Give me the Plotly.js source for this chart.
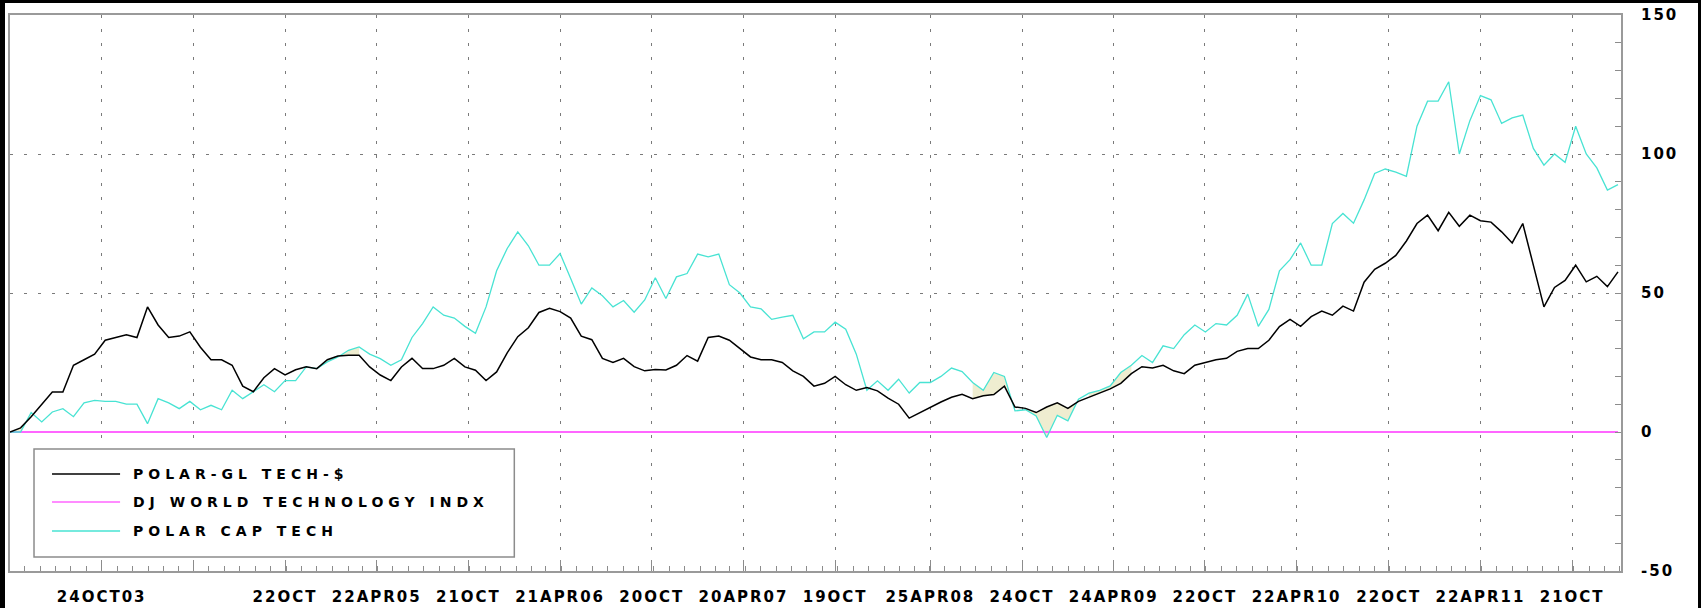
<!DOCTYPE html>
<html>
<head>
<meta charset="utf-8">
<script src="https://cdn.plot.ly/plotly-3.0.1.min.js"></script>
<style>
  html, body { margin: 0; padding: 0; background: #000; overflow: hidden; width: 1701px; height: 608px; }
  #chart { position: absolute; left: 5px; top: 3px; width: 1693px; height: 605px; }
  .xtick text, .ytick text { letter-spacing: 2px; }
  .annotation-text { letter-spacing: 5px; }
</style>
</head>
<body>
<div id="chart"></div>
<script>
// Weekly-sampled (every 3 weeks) dates
const dates = [
'2003-04-25','2003-05-16','2003-06-06','2003-06-27','2003-07-18','2003-08-08','2003-08-29','2003-09-19','2003-10-10','2003-10-31',
'2003-11-21','2003-12-12','2004-01-02','2004-01-23','2004-02-13','2004-03-05','2004-03-26','2004-04-16','2004-05-07','2004-05-28',
'2004-06-18','2004-07-09','2004-07-30','2004-08-20','2004-09-10','2004-10-01','2004-10-22','2004-11-12','2004-12-03','2004-12-24',
'2005-01-14','2005-02-04','2005-02-25','2005-03-18','2005-04-08','2005-04-29','2005-05-20','2005-06-10','2005-07-01','2005-07-22',
'2005-08-12','2005-09-02','2005-09-23','2005-10-14','2005-11-04','2005-11-25','2005-12-16','2006-01-06','2006-01-27','2006-02-17',
'2006-03-10','2006-03-31','2006-04-21','2006-05-12','2006-06-02','2006-06-23','2006-07-14','2006-08-04','2006-08-25','2006-09-15',
'2006-10-06','2006-10-27','2006-11-17','2006-12-08','2006-12-29','2007-01-19','2007-02-09','2007-03-02','2007-03-23','2007-04-13',
'2007-05-04','2007-05-25','2007-06-15','2007-07-06','2007-07-27','2007-08-17','2007-09-07','2007-09-28','2007-10-19','2007-11-09',
'2007-11-30','2007-12-21','2008-01-11','2008-02-01','2008-02-22','2008-03-14','2008-04-04','2008-04-25','2008-05-16','2008-06-06',
'2008-06-27','2008-07-18','2008-08-08','2008-08-29','2008-09-19','2008-10-10','2008-10-31','2008-11-21','2008-12-12','2009-01-02',
'2009-01-23','2009-02-13','2009-03-06','2009-03-27','2009-04-17','2009-05-08','2009-05-29','2009-06-19','2009-07-10','2009-07-31',
'2009-08-21','2009-09-11','2009-10-02','2009-10-23','2009-11-13','2009-12-04','2009-12-25','2010-01-15','2010-02-05','2010-02-26',
'2010-03-19','2010-04-09','2010-04-30','2010-05-21','2010-06-11','2010-07-02','2010-07-23','2010-08-13','2010-09-03','2010-09-24',
'2010-10-15','2010-11-05','2010-11-26','2010-12-17','2011-01-07','2011-01-28','2011-02-18','2011-03-11','2011-04-01','2011-04-22',
'2011-05-13','2011-06-03','2011-06-24','2011-07-15','2011-08-05','2011-08-26','2011-09-16','2011-10-07','2011-10-28','2011-11-18',
'2011-12-09','2011-12-30','2012-01-20'
];

const polarGlTech = [
0,1.5,5.5,9.8,14.4,14.4,24,26,28,33,
34,35,34,45,38.5,34,34.5,36,30.5,26,
26,24,16.5,14.5,19.5,22.8,20.5,22.4,23.5,22.8,
26,27.3,27.6,27.6,23.4,20.5,18.5,23.4,26.5,22.8,
22.8,24,26.5,23.4,22.2,18.5,21.6,28.5,34.3,37.5,
43,44.5,43.3,41,34.5,33.2,26.5,25,26.5,23.5,
22,22.5,22.3,24,27.5,25.5,34,34.5,33,30,
27,26,26,25,22,20,16.5,17.5,20,17,
15,16,14.8,12.2,10,5,7,9,10.8,12.5,
13.6,12,13,13.5,16.5,9,8.5,7,9,10.5,
8.5,11,12.5,14,15.5,17.5,21,23.5,23,24,
22,21,24,25,26,26.5,29,30,30,33,
37.9,40.5,38,41.5,43.5,42,45.3,43.5,53.9,58.5,
60.7,63.5,68.7,75,78,72.4,79,74,78,76,
75.5,72,68,75,60,45,52,54.5,60,54,
56,52.3,57.6
];

const polarCapTech = [
0,0,7,3.6,7.2,8.4,5.5,10.5,11.4,11,
11,10,10,3,12,10.5,8.4,11,8,9.6,
8,15,12,14.5,17,14.5,18.5,18.5,23.4,22.8,
25.2,27,29.4,30.6,28,26.4,24,26,34,39,
45,42,41,38,35.5,45,58,66,72,67,
60,60,64.2,55.2,46,51.8,49,45,47.3,43.1,
47.5,55.5,48,55.8,57,64,63,64,53,50,
45,44.3,40.5,41.3,42,33.5,36,36,39.5,37,
28,15,18.4,15,19,14,17.8,17.8,20,23,
21.7,17.8,15,21.4,20,7.6,8,5.8,-2,6,
4,11.8,14,15,16.6,21.4,24,27.5,25,31,
30,35,38.5,36,39,38.5,42,49.6,38,44.1,
58,62,68,60,60,75,78.6,75.1,83.5,93,
94.6,93.5,92,110,119,119,126,100,112,121,
119.5,111,113,114,102,96,100,97,110,100,
95,87,89
];

const djWorldTech = [0, 0];
const djDates = [dates[0], dates[dates.length - 1]];

const seriesNames = ['POLAR-GL TECH-$', 'DJ WORLD TECHNOLOGY INDX', 'POLAR CAP TECH'];
const seriesColors = ['#000000', '#ff66ff', '#48e3d3'];

const tickDates = ['2003-10-24','2004-04-23','2004-10-22','2005-04-22','2005-10-21','2006-04-21','2006-10-20','2007-04-20','2007-10-19','2008-04-25','2008-10-24','2009-04-24','2009-10-22','2010-04-22','2010-10-22','2011-04-22','2011-10-21'];
const tickLabels = ['24OCT03','','22OCT','22APR05','21OCT','21APR06','20OCT','20APR07','19OCT','25APR08','24OCT','24APR09','22OCT','22APR10','22OCT','22APR11','21OCT'];
const yTicks = [-50, 0, 50, 100, 150];

// index ranges where the band between the two fund lines is shaded
const shadeRanges = [[0, 2], [29, 33], [91, 95], [96, 101], [102, 106]];

const traces = [];
shadeRanges.forEach(r => {
  const xs = dates.slice(r[0], r[1] + 1);
  traces.push({x: xs, y: polarGlTech.slice(r[0], r[1] + 1), type: 'scatter', mode: 'lines',
    line: {width: 0}, showlegend: false, hoverinfo: 'skip'});
  traces.push({x: xs, y: polarCapTech.slice(r[0], r[1] + 1), type: 'scatter', mode: 'lines',
    line: {width: 0}, fill: 'tonexty', fillcolor: 'rgba(236,234,200,0.85)', showlegend: false, hoverinfo: 'skip'});
});
traces.push({x: djDates, y: djWorldTech, type: 'scatter', mode: 'lines', name: seriesNames[1],
  line: {color: seriesColors[1], width: 2}, showlegend: false});
traces.push({x: dates, y: polarCapTech, type: 'scatter', mode: 'lines', name: seriesNames[2],
  line: {color: seriesColors[2], width: 1.3}, showlegend: false});
traces.push({x: dates, y: polarGlTech, type: 'scatter', mode: 'lines', name: seriesNames[0],
  line: {color: seriesColors[0], width: 1.5}, showlegend: false});

// manual legend
const W = 1610, H = 556;
const legendRows = [0.1745, 0.1241, 0.0719];
const shapes = [{
  type: 'rect', xref: 'paper', yref: 'paper', x0: 24 / W, x1: 504 / W, y0: 14 / H, y1: 122 / H,
  line: {color: '#8c8c8c', width: 1.5}, fillcolor: '#ffffff', layer: 'above'
}];
const annotations = [];
seriesNames.forEach((nm, i) => {
  shapes.push({type: 'line', xref: 'paper', yref: 'paper', x0: 42 / W, x1: 110 / W,
    y0: legendRows[i], y1: legendRows[i], line: {color: seriesColors[i], width: 1.5}, layer: 'above'});
  annotations.push({xref: 'paper', yref: 'paper', x: 121 / W, y: legendRows[i], xanchor: 'left', yanchor: 'middle',
    align: 'left', showarrow: false, text: nm,
    font: {family: 'DejaVu Sans', size: 14, color: '#000', weight: 700}});
});

const layout = {
  width: 1693, height: 605,
  margin: {l: 5, r: 77, t: 12, b: 37},
  paper_bgcolor: '#ffffff', plot_bgcolor: '#ffffff',
  showlegend: false,
  xaxis: {
    type: 'date', range: ['2003-04-25', '2012-01-26'],
    tickmode: 'array', tickvals: tickDates, ticktext: tickLabels,
    showgrid: true, gridcolor: '#7a7a7a', gridwidth: 1, griddash: '3px,11px',
    ticks: 'inside', ticklen: 11, tickcolor: '#8c8c8c', tickwidth: 1,
    minor: {ticks: 'inside', ticklen: 5, tickcolor: '#8c8c8c', tickwidth: 1, dtick: 'M1', tick0: '2003-10-24', showgrid: false},
    showline: true, linecolor: '#9a9a9a', linewidth: 2, mirror: true,
    zeroline: false, ticklabelstandoff: 11,
    tickfont: {family: 'DejaVu Sans', size: 15, color: '#000', weight: 700}
  },
  yaxis: {
    side: 'right', range: [-50, 150], tickmode: 'array', tickvals: yTicks, ticktext: yTicks.map(String),
    showgrid: true, gridcolor: '#7a7a7a', gridwidth: 1, griddash: '3px,11px',
    ticks: 'inside', ticklen: 6, tickcolor: '#8c8c8c', tickwidth: 1,
    minor: {ticks: 'inside', ticklen: 6, tickcolor: '#8c8c8c', tickwidth: 1, dtick: 10, showgrid: false},
    showline: true, linecolor: '#9a9a9a', linewidth: 2, mirror: true,
    zeroline: false, ticklabelstandoff: 15,
    tickfont: {family: 'DejaVu Sans', size: 15, color: '#000', weight: 700}
  },
  shapes: shapes,
  annotations: annotations
};

Plotly.newPlot('chart', traces, layout, {displayModeBar: false, staticPlot: true});
</script>
</body>
</html>
